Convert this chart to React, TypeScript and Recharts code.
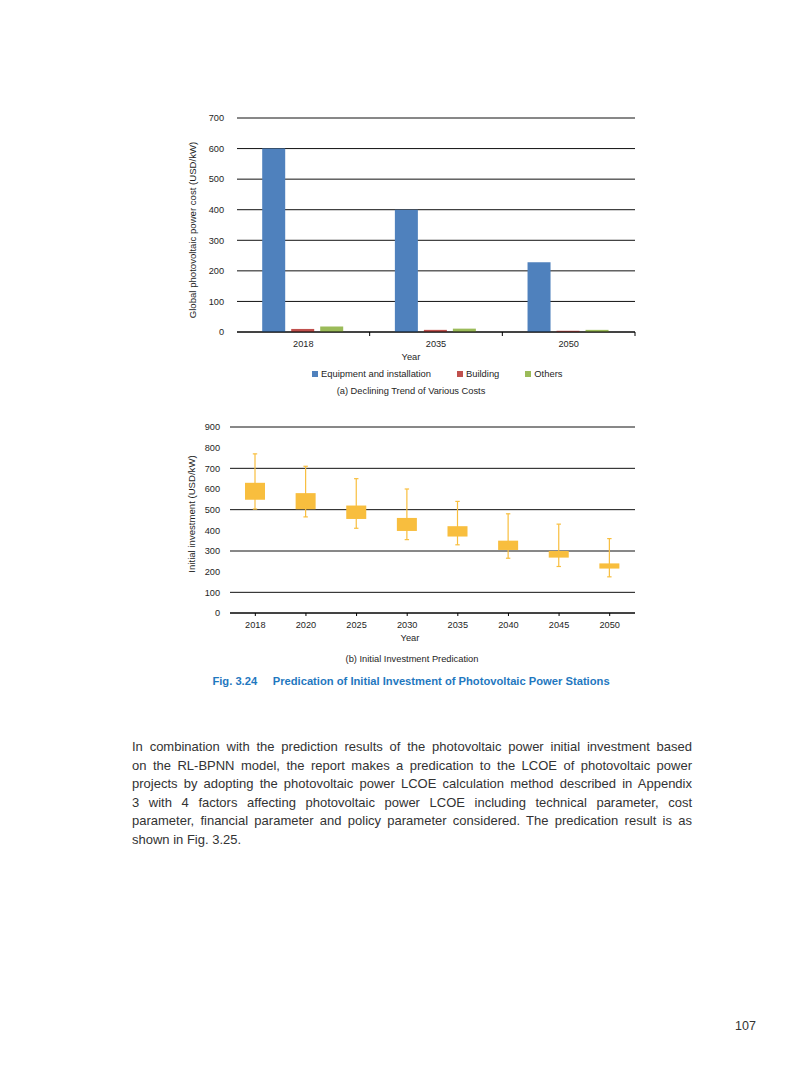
import React from "react";
import {
  BarChart,
  Bar,
  XAxis,
  YAxis,
  CartesianGrid,
  ComposedChart,
} from "recharts";

// ---------- Data: (a) Declining Trend of Various Costs ----------
const costYears = ["2018", "2035", "2050"];
const equipmentCost = [600, 400, 228];
const buildingCost = [10, 7, 4];
const otherCost = [18, 11, 7];
const costTicks = [0, 100, 200, 300, 400, 500, 600, 700];

const costSeries = [
  { key: "equipment", name: "Equipment and installation", color: "#4F81BD", values: equipmentCost },
  { key: "building", name: "Building", color: "#C0504D", values: buildingCost },
  { key: "others", name: "Others", color: "#9BBB59", values: otherCost },
];

// ---------- Data: (b) Initial Investment Predication ----------
const invYears = ["2018", "2020", "2025", "2030", "2035", "2040", "2045", "2050"];
const whiskerHigh = [770, 710, 650, 600, 540, 480, 430, 360];
const boxHigh = [630, 580, 520, 460, 420, 350, 300, 240];
const boxLow = [548, 502, 455, 397, 370, 305, 268, 215];
const whiskerLow = [503, 465, 410, 355, 330, 265, 225, 175];
const invTicks = [0, 100, 200, 300, 400, 500, 600, 700, 800, 900];

const paragraphLines = [
  "In combination with the prediction results of the photovoltaic power initial investment based",
  "on the RL-BPNN model, the report makes a predication to the LCOE of photovoltaic power",
  "projects by adopting the photovoltaic power LCOE calculation method described in Appendix",
  "3 with 4 factors affecting photovoltaic power LCOE including technical parameter, cost",
  "parameter, financial parameter and policy parameter considered. The predication result is as",
  "shown in Fig. 3.25.",
];

const costData = costYears.map((y, i) => {
  const row: any = { year: y };
  costSeries.forEach((s) => (row[s.key] = s.values[i]));
  return row;
});

const invData = invYears.map((y, i) => ({
  year: y,
  wHigh: whiskerHigh[i],
  bHigh: boxHigh[i],
  bLow: boxLow[i],
  wLow: whiskerLow[i],
}));

const FONT = "'Liberation Sans', Arial, Helvetica, sans-serif";
const TEXT = "#1e1e1e";
const BOX = "#F8BE3E";
const TICK_FS = 9.2;

// X tick for chart (a): label at band centre, tick mark at the band's right edge
const BoundaryTick = (props: any) => {
  const { x, y, payload } = props;
  const off = payload && payload.offset ? payload.offset : 0;
  const axisY = y - 8;
  return (
    <g>
      <line x1={x + off} x2={x + off} y1={axisY} y2={axisY + 4} stroke="#000" strokeWidth={1} />
      <text x={x} y={y} dy="0.71em" textAnchor="middle" fontSize={TICK_FS} fontFamily={FONT} fill={TEXT}>
        {payload.value}
      </text>
    </g>
  );
};

const BoxShape = (props: any) => {
  const { x, y, width, height, payload } = props;
  if (!payload || height == null) return null;
  const span = payload.wHigh - payload.wLow;
  const k = span ? height / span : 0;
  const yOf = (v: number) => y + (payload.wHigh - v) * k;
  const cx = x + width / 2;
  const cap = 2.2;
  return (
    <g>
      <line x1={cx} x2={cx} y1={yOf(payload.wHigh)} y2={yOf(payload.wLow)} stroke={BOX} strokeWidth={1.2} />
      <line x1={cx - cap} x2={cx + cap} y1={yOf(payload.wHigh)} y2={yOf(payload.wHigh)} stroke={BOX} strokeWidth={1.2} />
      <line x1={cx - cap} x2={cx + cap} y1={yOf(payload.wLow)} y2={yOf(payload.wLow)} stroke={BOX} strokeWidth={1.2} />
      <rect x={x} y={yOf(payload.bHigh)} width={width} height={yOf(payload.bLow) - yOf(payload.bHigh)} fill={BOX} />
    </g>
  );
};

const abs = (left: number, top: number, extra: React.CSSProperties = {}): React.CSSProperties => ({
  position: "absolute",
  left,
  top,
  fontFamily: FONT,
  color: TEXT,
  whiteSpace: "nowrap",
  ...extra,
});

const Centered = ({ cx, cy, size, children, style }: any) => (
  <div
    style={abs(cx, cy, {
      transform: "translate(-50%, -50%)",
      fontSize: size,
      lineHeight: 1,
      ...(style || {}),
    })}
  >
    {children}
  </div>
);

const Rotated = ({ cx, cy, size, children }: any) => (
  <div
    style={abs(cx, cy, {
      transform: "translate(-50%, -50%) rotate(-90deg)",
      fontSize: size,
      lineHeight: 1,
    })}
  >
    {children}
  </div>
);

export default function App() {
  return (
    <div style={{ position: "absolute", left: 0, top: 0, width: 793, height: 1077, background: "#fff" }}>
      {/* ---------- Chart (a) ---------- */}
      <div style={{ position: "absolute", left: 150, top: 100 }}>
        <BarChart
          width={500}
          height={260}
          data={costData}
          margin={{ top: 18, right: 15, bottom: 0, left: 0 }}
          barCategoryGap="19%"
          barGap={6}
        >
          <CartesianGrid horizontal vertical={false} stroke="#111" strokeWidth={1} />
          <XAxis
            dataKey="year"
            height={28}
            axisLine={{ stroke: "#000" }}
            tickLine={false}
            tickSize={5}
            tickMargin={3}
            tick={<BoundaryTick />}
            interval={0}
          />
          <YAxis
            width={87}
            domain={[0, 700]}
            ticks={costTicks}
            axisLine={false}
            tickLine={false}
            tickSize={0}
            tickMargin={13}
            tick={{ fontSize: TICK_FS, fontFamily: FONT, fill: TEXT }}
          />
          {costSeries.map((s) => (
            <Bar key={s.key} dataKey={s.key} name={s.name} fill={s.color} isAnimationActive={false} />
          ))}
        </BarChart>
      </div>
      <Rotated cx={193} cy={230} size={9.6}>
        Global photovoltaic power cost (USD/kW)
      </Rotated>
      <Centered cx={411} cy={358} size={9.3}>
        Year
      </Centered>
      {/* legend */}
      <div style={abs(312, 369, { fontSize: 9.4, lineHeight: "10px", display: "flex", alignItems: "center" })}>
        {costSeries.map((s, i) => (
          <div key={s.key} style={{ display: "flex", alignItems: "center", marginRight: i === 0 ? 26 : 26 }}>
            <span style={{ display: "inline-block", width: 6, height: 6, background: s.color, marginRight: 3 }} />
            <span>{s.name}</span>
          </div>
        ))}
      </div>
      <Centered cx={411} cy={392} size={9.3}>
        (a) Declining Trend of Various Costs
      </Centered>

      {/* ---------- Chart (b) ---------- */}
      <div style={{ position: "absolute", left: 150, top: 410 }}>
        <ComposedChart
          width={500}
          height={225}
          data={invData}
          margin={{ top: 17, right: 15, bottom: 0, left: 0 }}
        >
          <CartesianGrid horizontal vertical={false} stroke="#111" strokeWidth={1} />
          <XAxis
            dataKey="year"
            height={22}
            axisLine={{ stroke: "#000" }}
            tickLine={{ stroke: "#000" }}
            tickSize={3}
            tickMargin={5}
            interval={0}
            tick={{ fontSize: TICK_FS, fontFamily: FONT, fill: TEXT }}
          />
          <YAxis
            width={80}
            domain={[0, 900]}
            ticks={invTicks}
            axisLine={false}
            tickLine={false}
            tickSize={0}
            tickMargin={10}
            tick={{ fontSize: TICK_FS, fontFamily: FONT, fill: TEXT }}
          />
          <Bar
            dataKey={(d: any) => [d.wLow, d.wHigh]}
            barSize={20}
            fill={BOX}
            shape={<BoxShape />}
            isAnimationActive={false}
          />
        </ComposedChart>
      </div>
      <Rotated cx={192} cy={514} size={9.6}>
        Initial investment (USD/kW)
      </Rotated>
      <Centered cx={410} cy={639} size={9.3}>
        Year
      </Centered>
      <Centered cx={412} cy={660} size={9.3}>
        (b) Initial Investment Predication
      </Centered>
      <Centered cx={411} cy={682} size={11.2} style={{ color: "#1F78C0", fontWeight: "bold" }}>
        Fig. 3.24&nbsp;&nbsp;&nbsp;&nbsp;&nbsp;Predication of Initial Investment of Photovoltaic Power Stations
      </Centered>

      {/* ---------- Paragraph ---------- */}
      <div style={abs(132, 738, { width: 560, fontSize: 13, lineHeight: "18.6px", color: "#333", whiteSpace: "normal" })}>
        {paragraphLines.map((l, i) => (
          <div
            key={i}
            style={{
              textAlign: i < paragraphLines.length - 1 ? "justify" : "left",
              textAlignLast: i < paragraphLines.length - 1 ? "justify" : "left",
              whiteSpace: "nowrap",
            }}
          >
            {l}
          </div>
        ))}
      </div>

      <div style={abs(735, 1019, { fontSize: 12.5, color: "#333" })}>107</div>
    </div>
  );
}
